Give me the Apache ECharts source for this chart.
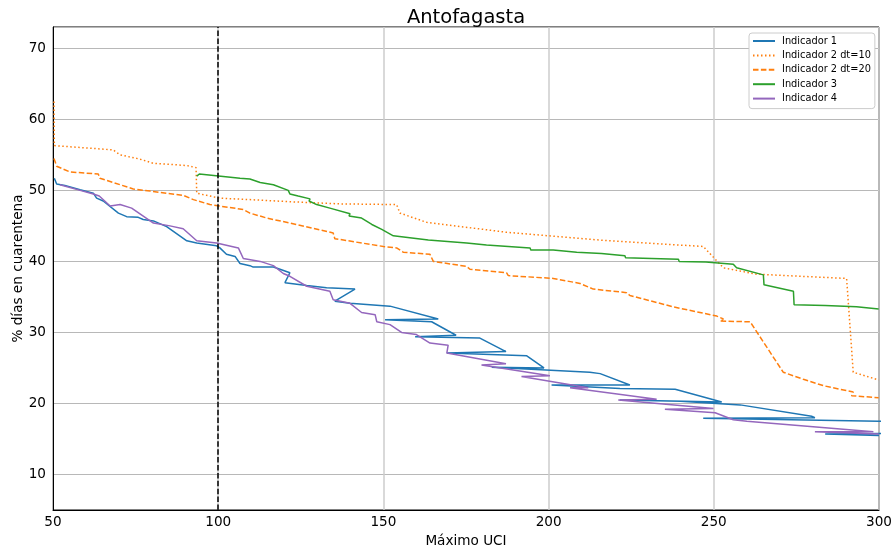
<!DOCTYPE html>
<html>
<head>
<meta charset="utf-8">
<script src="https://cdn.jsdelivr.net/npm/echarts@6/dist/echarts.min.js"></script>
<style>html,body{margin:0;padding:0;background:#fff}#c{width:894px;height:554px}</style>
</head>
<body>
<div id="c"></div>
<script>
// ---- data ----
const seriesNames = ['Indicador 1', 'Indicador 2 dt=10', 'Indicador 2 dt=20', 'Indicador 3', 'Indicador 4'];
const xTicks = [50, 100, 150, 200, 250, 300];
const yTicks = [10, 20, 30, 40, 50, 60, 70];
const refLineX = 100;

const ind1X = [50.4, 51.1, 53.6, 58.2, 62.2, 63.2, 65.2, 69.8, 72.3, 75.8, 77.3, 80.4, 84.4, 90.5, 93.5, 99.5, 100.5, 102.5, 105.1, 106.6, 109.6, 110.6, 116.7, 118.7, 121.7, 120.2, 126.8, 132.8, 141.4, 135.3, 139.9, 152, 166.6, 150.5, 164.6, 172, 159.6, 179.2, 187.1, 169.2, 193.4, 198.6, 182.8, 212.5, 215.6, 224.6, 200.9, 221.6, 238.3, 252.4, 221.6, 240, 258, 279.6, 280.6, 246.8, 300, 310, 310, 283.7, 300];
const ind1Y = [51.7, 50.9, 50.7, 50.1, 49.6, 48.9, 48.5, 46.8, 46.3, 46.2, 45.9, 45.7, 44.9, 42.9, 42.6, 42.2, 41.9, 41.0, 40.7, 39.7, 39.4, 39.2, 39.2, 38.9, 38.4, 37.0, 36.6, 36.3, 36.1, 34.4, 34.1, 33.7, 31.9, 31.8, 31.5, 29.6, 29.4, 29.2, 27.3, 27.1, 26.7, 25.0, 25.1, 24.4, 24.2, 22.6, 22.6, 22.1, 22.0, 20.2, 20.5, 20.3, 19.8, 18.2, 18.0, 17.9, 17.5, 17.4, 15.8, 15.7, 15.5];

const ind2aX = [50.3, 50.4, 68.2, 70.3, 76.3, 80.4, 90.5, 93.3, 93.5, 96.5, 100.5, 109.6, 121.7, 136.9, 154, 155, 163.1, 187.3, 215.6, 232.7, 246.8, 252.9, 263, 290.2, 292.2, 299.9];
const ind2aY = [62.5, 56.3, 55.7, 55.0, 54.4, 53.8, 53.5, 53.2, 49.6, 49.3, 48.9, 48.7, 48.4, 48.1, 48.0, 46.8, 45.5, 44.1, 43.0, 42.5, 42.1, 39.1, 38.2, 37.6, 24.4, 23.3];

const ind2bX = [50.3, 51.1, 55.1, 63.7, 64.2, 70.3, 74.3, 79.4, 89.4, 92.5, 97.5, 107.6, 109.6, 114.7, 121.7, 134.8, 135.3, 150, 154, 156, 164.1, 165.1, 175.2, 176.2, 187.3, 187.8, 201.4, 209.5, 213.5, 223.6, 224.6, 237.7, 250.9, 252.9, 251.9, 261, 271, 277.1, 283.2, 292.2, 291.7, 299.9];
const ind2bY = [54.5, 53.4, 52.6, 52.3, 51.7, 50.8, 50.2, 49.9, 49.3, 48.7, 48.0, 47.3, 46.8, 46.1, 45.4, 44.0, 43.2, 42.1, 41.9, 41.3, 41.0, 40.0, 39.3, 38.9, 38.4, 38.0, 37.6, 36.9, 36.1, 35.6, 35.2, 33.6, 32.3, 31.9, 31.6, 31.5, 24.4, 23.4, 22.5, 21.6, 21.1, 20.8];

const ind3X = [93.5, 94.3, 106.6, 106.7, 109.6, 112.7, 116.7, 121.2, 121.7, 124.2, 127.8, 127.5, 129.8, 133.8, 133.5, 139.9, 139.6, 143.4, 146.5, 149.5, 153, 163.6, 163.8, 175.2, 175.4, 181.2, 181.4, 194.4, 194.6, 201.4, 201.6, 208.5, 208.7, 216, 216.1, 223.1, 223.3, 231.2, 231.4, 239.3, 239.5, 247.6, 247.8, 255.9, 256.9, 265, 265.2, 274.1, 274.3, 283.7, 283.9, 293.2, 293.4, 299.9];
const ind3Y = [52.0, 52.3, 51.7, 51.5, 51.6, 51.1, 50.8, 50.0, 49.5, 49.2, 48.8, 48.5, 48.0, 47.5, 47.3, 46.7, 46.4, 46.1, 45.2, 44.5, 43.6, 43.0, 42.8, 42.6, 42.4, 42.3, 42.1, 41.9, 41.6, 41.6, 41.4, 41.3, 41.1, 41.1, 40.9, 40.8, 40.5, 40.4, 40.2, 40.3, 40.0, 39.9, 39.7, 39.6, 39.1, 38.1, 36.7, 35.8, 33.9, 33.8, 33.6, 33.6, 33.4, 33.3];

const ind4X = [52.1, 58.2, 62.2, 64, 67.3, 70.3, 73.8, 80.4, 85.4, 89.4, 93.5, 99.5, 106.1, 107.6, 112.7, 116.7, 119.7, 121.7, 126.8, 133.8, 134.8, 139.9, 143.4, 147.5, 148, 152, 155.5, 160, 164.1, 169.6, 169.2, 187.1, 179.7, 200.4, 191.8, 212, 206.5, 232.7, 221.1, 249.9, 235.2, 250.4, 255.9, 260, 298.3, 280.6, 299.9];
const ind4Y = [50.8, 50.0, 49.5, 49.2, 47.8, 48.0, 47.5, 45.4, 45.0, 44.6, 42.9, 42.6, 41.9, 40.4, 40.0, 39.4, 38.3, 37.9, 36.5, 35.8, 34.6, 34.1, 32.8, 32.5, 31.5, 31.1, 30.0, 29.7, 28.5, 28.2, 27.1, 25.6, 25.4, 23.9, 23.8, 22.2, 22.2, 20.6, 20.5, 19.3, 19.2, 18.7, 17.7, 17.5, 16.0, 16.0, 15.7];

// ---- build ----
const zip = (xs, ys) => xs.map((x, i) => [x, ys[i]]);
const FONT = 'DejaVu Sans';
const colors = ['#1f77b4', '#ff7f0e', '#ff7f0e', '#2ca02c', '#9467bd'];
const dashes = ['solid', [1.5, 2.5], [5.5, 2.4], 'solid', 'solid'];
const dataSets = [zip(ind1X, ind1Y), zip(ind2aX, ind2aY), zip(ind2bX, ind2bY), zip(ind3X, ind3Y), zip(ind4X, ind4Y)];

const series = seriesNames.map((n, i) => ({
  name: n, type: 'line', data: dataSets[i], showSymbol: false, symbol: 'none',
  clip: true, animation: false,
  lineStyle: { color: colors[i], width: 1.5, type: dashes[i], cap: 'butt' },
  itemStyle: { color: colors[i] }
}));
series.push({
  name: 'ref', type: 'line', data: [], animation: false,
  markLine: {
    silent: true, symbol: 'none', animation: false,
    label: { show: false },
    lineStyle: { color: '#000', width: 1.5, type: [5.5, 2.4] },
    data: [{ xAxis: refLineX }]
  }
});

const chart = echarts.init(document.getElementById('c'), null, { renderer: 'canvas' });
chart.setOption({
  animation: false,
  backgroundColor: '#fff',
  title: {
    text: 'Antofagasta', left: 466, top: 8, textAlign: 'center', padding: 0,
    textStyle: { fontFamily: FONT, fontSize: 19.5, fontWeight: 'normal', color: '#000' }
  },
  legend: {
    data: seriesNames, orient: 'vertical', left: 749, top: 33,
    padding: [3, 4, 5, 3], itemGap: 4.4, itemWidth: 22, itemHeight: 10,
    backgroundColor: '#fff', borderColor: '#cccccc', borderWidth: 1, borderRadius: 3,
    itemStyle: { opacity: 0 },
    textStyle: { fontFamily: FONT, fontSize: 9.8, color: '#000', padding: [0, 0, 0, 2] }
  },
  grid: { left: 53, right: 15, top: 27, bottom: 44, show: true, borderColor: '#000', borderWidth: 1,
    backgroundColor: 'transparent', outerBoundsMode: 'none', containLabel: false },
  xAxis: {
    type: 'value', min: xTicks[0], max: xTicks[xTicks.length - 1], interval: xTicks[1] - xTicks[0],
    name: 'Máximo UCI', nameLocation: 'middle', nameGap: 24, nameMoveOverlap: false,
    nameTextStyle: { fontFamily: FONT, fontSize: 13.6, color: '#000' },
    axisLine: { show: true, lineStyle: { color: '#000', width: 1 } },
    axisTick: { show: false },
    axisLabel: { fontFamily: FONT, fontSize: 13.6, color: '#000', margin: 5 },
    splitLine: { show: true, lineStyle: { color: '#cccccc', width: 1.5 } }
  },
  yAxis: {
    type: 'value', min: 5, max: 73,
    name: '% días en cuarentena', nameLocation: 'middle', nameGap: 28, nameMoveOverlap: false,
    nameTextStyle: { fontFamily: FONT, fontSize: 13.6, color: '#000' },
    axisLine: { show: true, lineStyle: { color: '#000', width: 1 } },
    axisTick: { show: false },
    axisLabel: { fontFamily: FONT, fontSize: 13.6, color: '#000', margin: 7, showMinLabel: false, showMaxLabel: false,
      formatter: v => (yTicks.indexOf(v) >= 0 ? String(v) : '') },
    splitLine: { show: true, lineStyle: { color: '#b8b8b8', width: 1 } }
  },
  series: series
});
</script>
</body>
</html>
